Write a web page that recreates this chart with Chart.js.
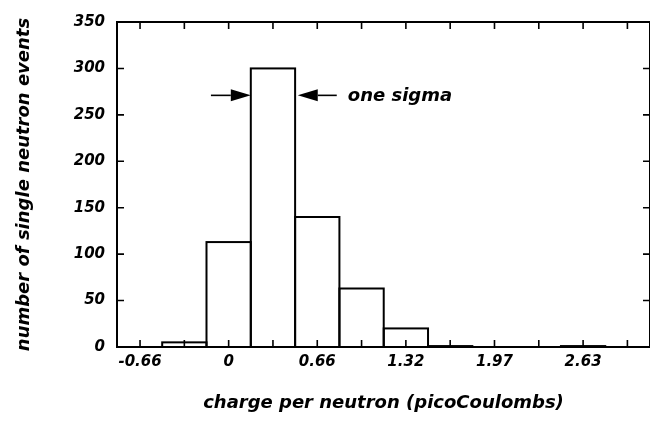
<!DOCTYPE html>
<html><head><meta charset="utf-8">
<script src="https://cdn.jsdelivr.net/npm/chart.js@4"></script>
<style>html,body{margin:0;padding:0;background:#fff}</style>
</head><body>
<canvas id="c" width="650" height="424"></canvas>
<script>
// histogram bins (index of bin, 1 bin = 0.33 pC)
const binIndex    = [-2, -1,   0,   1,   2,  3,  4, 5, 6, 7, 8, 9];
const eventCounts = [ 0,  5, 113, 300, 140, 63, 20, 1, 0, 0, 1, 0];
// labelled x ticks
const xTickIndex  = [-2, 0, 2, 4, 6, 8];
const xTickLabels = ['-0.66', '0', '0.66', '1.32', '1.97', '2.63'];
const annotationText = 'one sigma';

// annotation placement (data units)
const arrowY = 271, labelY = 265;
const leftArrow  = {from: -0.40, to: 0.50};
const rightArrow = {from: 2.44,  to: 1.56};
const labelX = 2.69;

const tickFont  = {family: 'DejaVu Sans', size: 15, weight: 'bold', style: 'italic'};
const titleFont = {family: 'DejaVu Sans', size: 18, weight: 'bold', style: 'italic'};

const outlinePlugin = {
  id: 'outline',
  afterDatasetsDraw(chart) {
    const {ctx} = chart;
    const meta = chart.getDatasetMeta(0);
    ctx.save();
    ctx.strokeStyle = '#000';
    ctx.lineWidth = 2;
    meta.data.forEach((bar, i) => {
      if (!eventCounts[i]) return;
      const p = bar.getProps(['x', 'y', 'base', 'width'], true);
      ctx.strokeRect(p.x - p.width / 2, p.y, p.width, p.base - p.y);
    });
    ctx.restore();
  }
};

const framePlugin = {
  id: 'frame',
  afterDraw(chart) {
    const {ctx, chartArea: a, scales: {x, y}} = chart;
    ctx.save();
    ctx.strokeStyle = '#000';
    ctx.lineWidth = 2;
    ctx.strokeRect(a.left, a.top, a.right - a.left, a.bottom - a.top);
    ctx.lineWidth = 1.6;
    ctx.beginPath();
    x.ticks.forEach(t => {
      const px = x.getPixelForValue(t.value);
      ctx.moveTo(px, a.bottom); ctx.lineTo(px, a.bottom - 7);
      ctx.moveTo(px, a.top);    ctx.lineTo(px, a.top + 7);
    });
    y.ticks.forEach(t => {
      const py = y.getPixelForValue(t.value);
      ctx.moveTo(a.left, py);  ctx.lineTo(a.left + 7, py);
      ctx.moveTo(a.right, py); ctx.lineTo(a.right - 7, py);
    });
    ctx.stroke();

    const py = y.getPixelForValue(arrowY);
    function arrow(fromV, toV) {
      const fx = x.getPixelForValue(fromV), tx = x.getPixelForValue(toV);
      const dir = tx > fx ? 1 : -1;
      const headLen = 20, half = 6;
      ctx.lineWidth = 1.6;
      ctx.beginPath();
      ctx.moveTo(fx, py); ctx.lineTo(tx - dir * headLen, py);
      ctx.stroke();
      ctx.beginPath();
      ctx.moveTo(tx, py);
      ctx.lineTo(tx - dir * headLen, py - half);
      ctx.lineTo(tx - dir * headLen, py + half);
      ctx.closePath();
      ctx.fillStyle = '#000';
      ctx.fill();
    }
    arrow(leftArrow.from, leftArrow.to);
    arrow(rightArrow.from, rightArrow.to);

    ctx.font = 'italic bold 18px "DejaVu Sans"';
    ctx.fillStyle = '#000';
    ctx.textAlign = 'left';
    ctx.textBaseline = 'alphabetic';
    ctx.fillText(annotationText, x.getPixelForValue(labelX), y.getPixelForValue(labelY));
    ctx.restore();
  }
};

new Chart(document.getElementById('c'), {
  type: 'bar',
  data: {
    datasets: [{
      data: binIndex.map((b, i) => ({x: b, y: eventCounts[i]})),
      backgroundColor: '#fff',
      borderWidth: 0,
      barPercentage: 1,
      categoryPercentage: 1
    }]
  },
  options: {
    responsive: false,
    animation: false,
    devicePixelRatio: 1,
    layout: {padding: {top: 22, left: 0, right: 0, bottom: 0}},
    plugins: {legend: {display: false}, tooltip: {enabled: false}},
    scales: {
      x: {
        type: 'linear',
        offset: false,
        min: -2.52, max: 9.51,
        grid: {display: false, drawTicks: false, offset: false},
        border: {display: false},
        afterBuildTicks: s => { s.ticks = binIndex.map(v => ({value: v})); },
        ticks: {
          autoSkip: false, maxRotation: 0, padding: 6, color: '#000', font: tickFont,
          callback: v => { const k = xTickIndex.indexOf(v); return k >= 0 ? xTickLabels[k] : ''; }
        },
        title: {display: true, text: 'charge per neutron (picoCoulombs)', color: '#000', font: titleFont,
                padding: {top: 0, bottom: 10}},
        afterFit: s => { s.height = 77; s.paddingLeft = 0; s.paddingRight = 0; }
      },
      y: {
        min: 0, max: 350,
        grid: {display: false, drawTicks: false},
        border: {display: false},
        ticks: {stepSize: 50, padding: 12, color: '#000', font: tickFont},
        title: {display: true, text: 'number of single neutron events', color: '#000', font: titleFont,
                padding: {top: 14, bottom: 0}},
        afterFit: s => { s.width = 117; s.paddingTop = 0; s.paddingBottom = 0; }
      }
    }
  },
  plugins: [outlinePlugin, framePlugin]
});
</script>
</body></html>
